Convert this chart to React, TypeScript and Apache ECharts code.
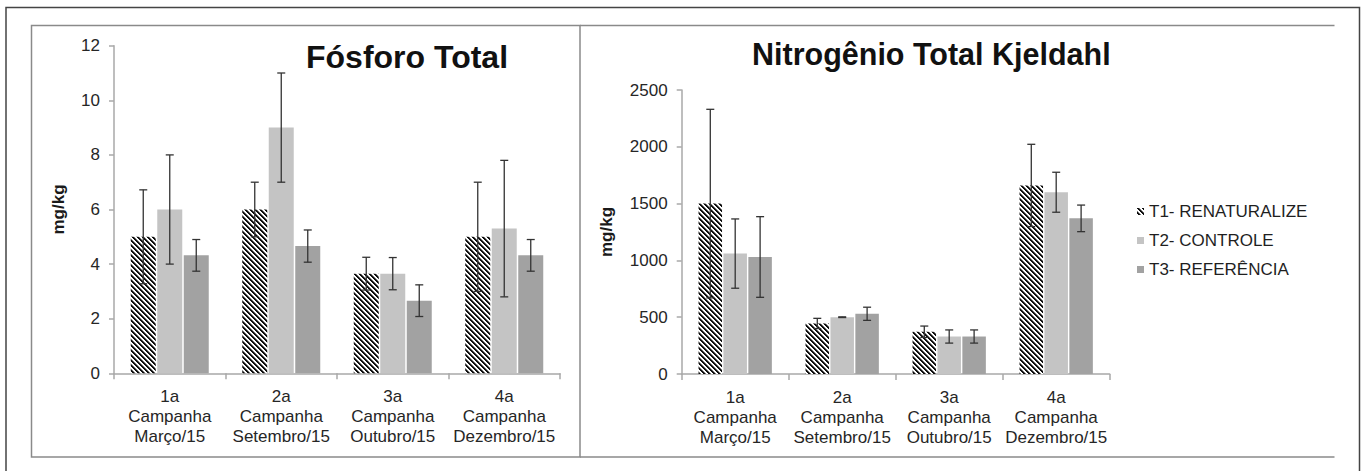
import React, { useEffect, useRef } from "react";
import * as echarts from "echarts";

const categories = [
  "1a\nCampanha\nMarço/15",
  "2a\nCampanha\nSetembro/15",
  "3a\nCampanha\nOutubro/15",
  "4a\nCampanha\nDezembro/15",
];
const seriesNames = ["T1- RENATURALIZE", "T2- CONTROLE", "T3- REFERÊNCIA"];

const fosforoT1 = [5, 6, 3.65, 5];
const fosforoT2 = [6, 9, 3.65, 5.3];
const fosforoT3 = [4.32, 4.66, 2.66, 4.32];
const fosforoErrT1 = [1.72, 1.0, 0.6, 2.0];
const fosforoErrT2 = [2.0, 2.0, 0.59, 2.5];
const fosforoErrT3 = [0.58, 0.59, 0.58, 0.58];

const nitroT1 = [1500, 445, 372, 1660];
const nitroT2 = [1060, 500, 330, 1600];
const nitroT3 = [1030, 530, 330, 1370];
const nitroErrT1 = [830, 45, 50, 362];
const nitroErrT2 = [305, 3, 58, 176];
const nitroErrT3 = [355, 58, 58, 117];

const FONT = '"Liberation Sans", Arial, Helvetica, sans-serif';

function makeHatch(): HTMLCanvasElement {
  const s = 5;
  const c = document.createElement("canvas");
  c.width = s;
  c.height = s;
  const ctx = c.getContext("2d")!;
  const img = ctx.createImageData(s, s);
  for (let y = 0; y < s; y++) {
    for (let x = 0; x < s; x++) {
      const d = (((x - y) % s) + s) % s;
      const g = d <= 1 ? 15 : d === 2 ? 120 : 255;
      const p = (y * s + x) * 4;
      img.data[p] = g;
      img.data[p + 1] = g;
      img.data[p + 2] = g;
      img.data[p + 3] = 255;
    }
  }
  ctx.putImageData(img, 0, 0);
  return c;
}

export default function App() {
  const ref = useRef<HTMLDivElement>(null);

  useEffect(() => {
    if (!ref.current) return;
    const chart = echarts.init(ref.current, null, { renderer: "svg" });
    const hatch = { image: makeHatch(), repeat: "repeat" } as any;
    const colors = [hatch, "#c4c4c4", "#a2a2a2"];

    const leftBarW = 25;
    const rightBarW = 23.5;
    const gapRatio = 0.06;

    const errSeries = (
      name: string,
      gridIdx: number,
      vals: number[],
      errs: number[],
      offset: number
    ) => ({
      type: "custom",
      name,
      xAxisIndex: gridIdx,
      yAxisIndex: gridIdx,
      z: 5,
      silent: true,
      data: vals.map((v, i) => [i, v, errs[i]]),
      encode: { x: 0, y: 1 },
      renderItem: (params: any, api: any) => {
        const i = api.value(0);
        const v = api.value(1);
        const e = api.value(2);
        const top = api.coord([i, v + e]);
        const bot = api.coord([i, v - e]);
        const x = top[0] + offset;
        const st = { stroke: "#333333", lineWidth: 1.3 };
        return {
          type: "group",
          children: [
            { type: "line", shape: { x1: x, y1: top[1], x2: x, y2: bot[1] }, style: st },
            { type: "line", shape: { x1: x - 4, y1: top[1], x2: x + 4, y2: top[1] }, style: st },
            { type: "line", shape: { x1: x - 4, y1: bot[1], x2: x + 4, y2: bot[1] }, style: st },
          ],
        };
      },
    });

    const barSeries = (gridIdx: number, data: number[][], w: number) =>
      data.map((d, k) => ({
        type: "bar",
        name: seriesNames[k],
        xAxisIndex: gridIdx,
        yAxisIndex: gridIdx,
        data: d,
        barWidth: w,
        barGap: "6%",
        itemStyle: { color: colors[k] },
      }));

    const leftStep = leftBarW * (1 + gapRatio);
    const rightStep = rightBarW * (1 + gapRatio);

    const axisLineStyle = { color: "#a8a8a8", width: 1.5 };

    const xAxisCommon = {
      type: "category",
      data: categories,
      axisLine: { show: true, lineStyle: axisLineStyle },
      axisTick: { show: true, length: 6, lineStyle: axisLineStyle },
      axisLabel: {
        interval: 0,
        fontSize: 17,
        lineHeight: 20,
        color: "#262626",
        margin: 13,
        fontFamily: FONT,
        hideOverlap: false,
      },
    };

    const yAxisCommon = {
      type: "value",
      splitLine: { show: false },
      axisLine: { show: true, lineStyle: axisLineStyle },
      axisTick: { show: true, length: 5, lineStyle: axisLineStyle },
      axisLabel: {
        fontSize: 17,
        color: "#262626",
        margin: 14,
        fontFamily: FONT,
        formatter: (v: number) => String(v),
      },
      name: "mg/kg",
      nameLocation: "middle",
      nameTextStyle: { fontSize: 17, fontWeight: "bold", color: "#1a1a1a", fontFamily: FONT },
    };

    const option: any = {
      animation: false,
      backgroundColor: "#ffffff",
      textStyle: { fontFamily: FONT },
      title: [
        {
          text: "Fósforo Total",
          left: 306,
          top: 41,
          padding: 0,
          textStyle: { fontSize: 32, fontWeight: "bold", color: "#111", fontFamily: FONT },
        },
        {
          text: "Nitrogênio Total Kjeldahl",
          left: 752,
          top: 38,
          padding: 0,
          textStyle: { fontSize: 30.5, fontWeight: "bold", color: "#111", fontFamily: FONT },
        },
      ],
      legend: {
        data: seriesNames,
        orient: "vertical",
        left: 1137,
        top: 203,
        itemWidth: 7,
        itemHeight: 7,
        itemGap: 12,
        icon: "rect",
        padding: 0,
        textStyle: { fontSize: 17, color: "#1f1f1f", fontFamily: FONT },
      },
      grid: [
        { left: 114, top: 45.7, width: 446, height: 327.6 },
        { left: 681.7, top: 90, width: 428, height: 284 },
      ],
      xAxis: [
        { ...xAxisCommon, gridIndex: 0 },
        { ...xAxisCommon, gridIndex: 1 },
      ],
      yAxis: [
        { ...yAxisCommon, gridIndex: 0, min: 0, max: 12, interval: 2, nameGap: 47 },
        { ...yAxisCommon, gridIndex: 1, min: 0, max: 2500, interval: 500, nameGap: 67 },
      ],
      graphic: [
        {
          type: "polyline",
          shape: { points: [[6, 480], [6, 7.5], [1359.5, 7.5], [1359.5, 480]] },
          style: { stroke: "#444", lineWidth: 1.5, fill: null },
          silent: true,
        },
        {
          type: "rect",
          shape: { x: 31.5, y: 25.5, width: 548.5, height: 431.5 },
          style: { stroke: "#8a8a8a", lineWidth: 1.5, fill: null },
          silent: true,
        },
        {
          type: "line",
          shape: { x1: 580, y1: 25.5, x2: 1334.5, y2: 25.5 },
          style: { stroke: "#8a8a8a", lineWidth: 1.5 },
          silent: true,
        },
        {
          type: "line",
          shape: { x1: 580, y1: 457, x2: 1334.5, y2: 457 },
          style: { stroke: "#8a8a8a", lineWidth: 1.5 },
          silent: true,
        },
      ],
      series: [
        ...barSeries(0, [fosforoT1, fosforoT2, fosforoT3], leftBarW),
        ...barSeries(1, [nitroT1, nitroT2, nitroT3], rightBarW),
        errSeries("errF1", 0, fosforoT1, fosforoErrT1, -leftStep),
        errSeries("errF2", 0, fosforoT2, fosforoErrT2, 0),
        errSeries("errF3", 0, fosforoT3, fosforoErrT3, leftStep),
        errSeries("errN1", 1, nitroT1, nitroErrT1, -rightStep),
        errSeries("errN2", 1, nitroT2, nitroErrT2, 0),
        errSeries("errN3", 1, nitroT3, nitroErrT3, rightStep),
      ],
    };

    chart.setOption(option);
    return () => chart.dispose();
  }, []);

  return (
    <div
      ref={ref}
      style={{ position: "fixed", left: 0, top: 0, width: 1362, height: 471, background: "#fff" }}
    />
  );
}
